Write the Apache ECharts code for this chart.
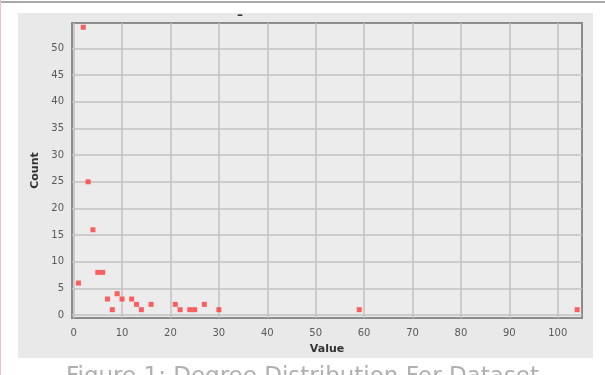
<!DOCTYPE html>
<html>
<head>
<meta charset="utf-8">
<script src="https://cdn.jsdelivr.net/npm/echarts@6/dist/echarts.min.js"></script>
<style>
  html, body { margin: 0; padding: 0; background: #ffffff; }
  #chart { width: 605px; height: 375px; }
</style>
</head>
<body>
<div id="chart"></div>
<script>
// Degree distribution: how many nodes have each degree value
const degreeValues = [1, 2, 3, 4, 5, 6, 7, 8, 9, 10, 12, 13, 14, 16, 21, 22, 24, 25, 27, 30, 59, 104];
const nodeCounts   = [6, 54, 25, 16, 8, 8, 3, 1, 4, 3, 3, 2, 1, 2, 2, 1, 1, 1, 2, 1, 1, 1];

// Axis tick labels
const xTicks = [0, 10, 20, 30, 40, 50, 60, 70, 80, 90, 100];
const yTicks = [0, 5, 10, 15, 20, 25, 30, 35, 40, 45, 50];

const points = degreeValues.map((d, i) => [d, nodeCounts[i]]);

const chart = echarts.init(document.getElementById('chart'), null, { renderer: 'canvas' });

const labelFont = { fontFamily: 'DejaVu Sans', fontSize: 10, color: '#5a5a5a' };

chart.setOption({
  animation: false,
  backgroundColor: '#ffffff',
  graphic: [
    // page rule along the top
    { type: 'rect', shape: { x: 0, y: 1, width: 605, height: 2 }, style: { fill: '#a8a8a8' }, z: -10 },
    // thin margin line on the left
    { type: 'rect', shape: { x: 0, y: 0, width: 1, height: 375 }, style: { fill: '#f2c4c4' }, z: -10 },
    // chart panel
    { type: 'rect', shape: { x: 18, y: 13, width: 575, height: 345 }, style: { fill: '#e9e9e9' }, z: -10 },
    // small title mark
    { type: 'text', left: 237, top: 10, style: { text: '\u2013', fontFamily: 'DejaVu Sans', fontSize: 12, fontWeight: 'bold', fill: '#333333' }, z: 5 },
    // caption below the chart
    { type: 'text', left: 'center', top: 366, style: { text: 'Figure 1: Degree Distribution For Dataset', fontFamily: 'DejaVu Sans', fontSize: 23, fill: '#b0b0b0' }, z: 5 }
  ],
  grid: {
    left: 72, right: 23, top: 23, bottom: 57,
    show: true,
    backgroundColor: '#ececec',
    borderColor: '#8c8c8c',
    borderWidth: 2
  },
  xAxis: {
    type: 'value',
    min: -0.33, max: 105,
    name: 'Value',
    nameLocation: 'middle',
    nameGap: 26,
    nameTextStyle: { fontFamily: 'DejaVu Sans', fontSize: 11, fontWeight: 'bold', color: '#333333' },
    axisLine: { show: false },
    axisTick: { show: false, customValues: xTicks },
    axisLabel: Object.assign({ customValues: xTicks, margin: 10 }, labelFont),
    splitLine: { show: true, lineStyle: { color: '#c2c2c2', width: 1.5 } }
  },
  yAxis: {
    type: 'value',
    min: -0.56, max: 54.8,
    name: 'Count',
    nameLocation: 'middle',
    nameGap: 29,
    nameRotate: 90,
    nameTextStyle: { fontFamily: 'DejaVu Sans', fontSize: 11, fontWeight: 'bold', color: '#333333' },
    axisLine: { show: false },
    axisTick: { show: false, customValues: yTicks },
    axisLabel: Object.assign({ customValues: yTicks, margin: 8 }, labelFont),
    splitLine: { show: true, lineStyle: { color: '#c2c2c2', width: 1.5 } }
  },
  series: [{
    type: 'scatter',
    data: points,
    symbol: 'rect',
    symbolSize: 5,
    itemStyle: { color: '#ff3b3b' }
  }]
});
</script>
</body>
</html>
